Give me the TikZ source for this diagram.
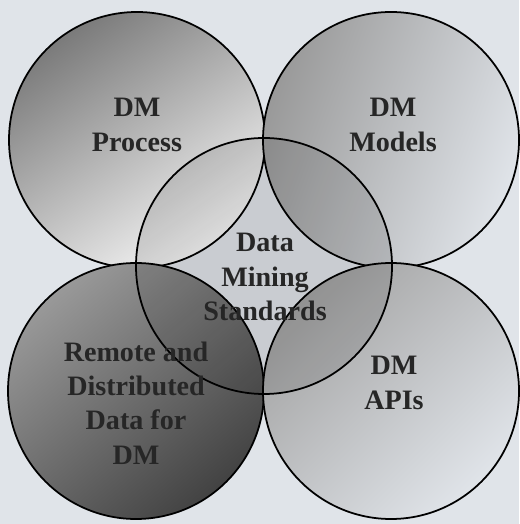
\documentclass[tikz,border=0pt]{standalone}
\usepackage{fontspec}
\setmainfont{Liberation Serif}
\usetikzlibrary{positioning}
\definecolor{paper}{RGB}{224,228,233}
\definecolor{ink}{RGB}{38,38,38}
\tikzset{
    ring/.style = {circle, draw=black, line width=1pt, minimum size=5.12cm, inner sep=0pt},
    ringtl/.style = {ring, top color=black!52, bottom color=black!4, shading angle=35},
    ringtr/.style = {ring, top color=black!40, bottom color=paper, shading angle=70},
    ringbl/.style = {ring, top color=black!40, bottom color=black!74, shading angle=40},
    ringbr/.style = {ring, top color=black!36, bottom color=paper, shading angle=45},
    ringc/.style = {ring, fill=black, fill opacity=0.1},
    tag/.style = {align=center, text=ink, font=\fontsize{16}{19.6}\selectfont\bfseries}
}

\begin{document}
\begin{tikzpicture}
\fill[paper] (0,0) rectangle (10.38,10.48);
\useasboundingbox (0,0) rectangle (10.38,10.48);

\node[ringtl] at (2.74, 7.68) (tl) {};
\node[ringtr] at (7.82, 7.68) (tr) {};
\node[ringbl] at (2.72, 2.66) (bl) {};
\node[ringbr] at (7.82, 2.66) (br) {};
\node[ringc] at (5.28, 5.16) (std) {};
%
\node[tag] at (2.74, 7.98) (proc) {DM\\Process};
\node[tag] at (7.86, 7.98) (mod) {DM\\Models};
\node[tag] at (7.88, 2.82) (api) {DM\\APIs};
\node[tag] at (5.30, 4.94) (dms) {Data\\Mining\\Standards};
\node[tag] at (2.72, 2.42) (dist) {Remote and\\Distributed\\Data for\\DM};

\end{tikzpicture}
\end{document}
